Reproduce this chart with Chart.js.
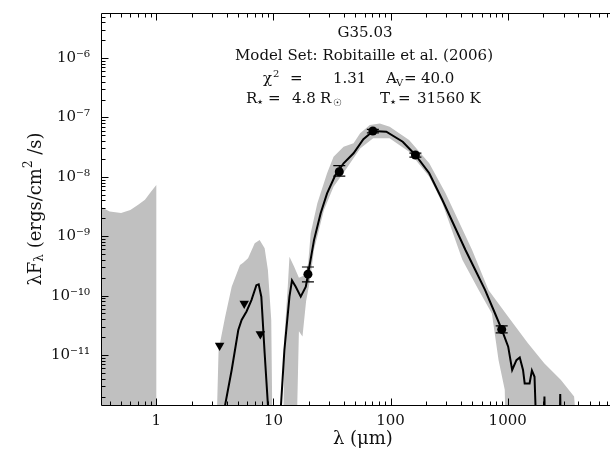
<!DOCTYPE html>
<html>
<head>
<meta charset="utf-8">
<script src="https://cdn.jsdelivr.net/npm/chart.js@4"></script>
<style>
  html, body { margin: 0; padding: 0; overflow: hidden; background: #fff; }
  #wrap { position: relative; width: 632px; height: 454px; }
</style>
</head>
<body>
<div id="wrap"><canvas id="sed"></canvas></div>
<script>
// axis ranges (micron, erg/cm2/s)
const X_MIN = 0.337, X_MAX = 10000;
const Y_MIN = 1.44e-12, Y_MAX = 5.73e-6;
const BELOW = 1e-13;   // under the axis, used where a curve leaves the plot

const xTickVals = [1, 10, 100, 1000];
const yTickExp = [-11, -10, -9, -8, -7, -6];

// best fit model
const fitLam = [3.6, 3.87, 4.4, 5.01, 5.35, 5.89, 6.49, 7.15, 7.48, 7.88, 8.41, 8.97, 9.3,
  11.2, 11.6, 12.4, 13.7, 14.4, 15.5, 17.1, 18.9, 19.8, 22.2, 25.3, 28.7, 33.8, 39.7, 48.3,
  58.6, 71, 92, 127, 163, 214, 277, 436, 529, 642, 780, 889, 1010, 1092, 1188, 1268, 1352,
  1397, 1538, 1610, 1695, 1808, 2000, 2060, 2120, 2740, 2810, 2880];
const fitFlux = [BELOW, 1.45e-12, 5.6e-12, 2.64e-11, 3.9e-11, 5.4e-11, 8.4e-11, 1.5e-10, 1.55e-10, 9.6e-11, 1.08e-11, 1.45e-12, BELOW,
  BELOW, 1.45e-12, 1.21e-11, 9.6e-11, 1.8e-10, 1.41e-10, 9.6e-11, 1.41e-10, 2.37e-10, 8.6e-10, 2.43e-9, 5.27e-9, 1.07e-8, 1.69e-8, 2.49e-8,
  4.3e-8, 5.9e-8, 5.74e-8, 3.9e-8, 2.33e-8, 1.15e-8, 4.07e-9, 5.86e-10, 2.7e-10, 1.24e-10, 5.0e-11, 2.7e-11, 1.38e-11, 5.6e-12, 8.2e-12, 9.1e-12, 5.6e-12,
  3.33e-12, 3.33e-12, 5.5e-12, 4.3e-12, BELOW, BELOW, 2.0e-12, BELOW, BELOW, 2.2e-12, BELOW];

// grey band of the other good fits: upper and lower edge
const bandTopLam = [0.337, 0.4, 0.5, 0.6, 0.7, 0.8, 0.9, 1.0, 1.0, 3.19, 3.4, 3.87, 4.4, 5.18, 5.51,
  6.07, 6.92, 7.62, 8.41, 8.97, 9.58, 9.9, 12.0, 12.4, 13.25, 13.7, 15.0, 16.5, 18.5, 19.8, 20.8,
  23.7, 28.7, 32.6, 39.7, 48.3, 55, 66.5, 80.9, 98.3, 144, 214, 295, 497, 686, 1010, 1490, 2060,
  2850, 3690, 4200, 10000];
const bandTopFlux = [3.1e-9, 2.6e-9, 2.45e-9, 2.75e-9, 3.4e-9, 4.1e-9, 5.6e-9, 7.3e-9, BELOW, BELOW, 1.2e-11, 4.4e-11, 1.41e-10, 3.27e-10, 3.58e-10,
  4.25e-10, 7.6e-10, 8.6e-10, 6.25e-10, 2.7e-10, 3.9e-11, BELOW, BELOW, 2.0e-11, 1.41e-10, 4.5e-10, 3.1e-10, 2.0e-10, 2.2e-10, 3.5e-10, 1.12e-9,
  3.58e-9, 1.15e-8, 2.18e-8, 3.2e-8, 3.66e-8, 5.4e-8, 7.45e-8, 7.9e-8, 7.0e-8, 4.17e-8, 1.69e-8, 5.27e-9, 5.86e-10, 1.24e-10, 4.4e-11, 1.58e-11, 7.2e-12,
  3.8e-12, 2.0e-12, BELOW, BELOW];
const bandBotLam = [0.337, 15.5, 16.5, 17.7, 19.0, 20.5, 22.2, 27, 32.6, 42.2, 55, 71, 98, 144,
  214, 277, 410, 565, 733, 836, 944, 975, 10000];
const bandBotFlux = [BELOW, BELOW, 2.5e-11, 2.04e-11, 8e-11, 1.8e-10, 5.9e-10, 2.75e-9, 6.8e-9, 1.39e-8, 3e-8, 4.45e-8, 4.45e-8, 2.65e-8,
  1e-8, 3.6e-9, 4e-10, 1.24e-10, 5e-11, 8.2e-12, 2.6e-12, BELOW, BELOW];

// photometry
const detLam = [19.7, 36.5, 70.6, 163, 889];
const detFlux = [2.3e-10, 1.22e-8, 5.9e-8, 2.33e-8, 2.7e-11];
const detLow = [1.71e-10, 1.03e-8, 5.5e-8, 2.15e-8, 2.35e-11];
const detHigh = [3.03e-10, 1.54e-8, 6.3e-8, 2.5e-8, 3.09e-11];
const limLam = [3.47, 5.63, 7.73];
const limFlux = [1.44e-11, 7.4e-11, 2.26e-11];

const GREY = '#c0c0c0';
const SERIF = '"DejaVu Serif", serif';

function pairs(xs, ys) {
  return xs.map((v, i) => ({ x: v, y: ys[i] }));
}

const sup = { '-': '\u207B', '0': '\u2070', '1': '\u00B9', '2': '\u00B2', '3': '\u00B3', '4': '\u2074',
  '5': '\u2075', '6': '\u2076', '7': '\u2077', '8': '\u2078', '9': '\u2079' };
function powLabel(e) {
  return '10' + String(e).split('').map(c => sup[c]).join('');
}

let datasets = [];
datasets.push({ data: pairs(bandTopLam, bandTopFlux), showLine: true, fill: '+1', backgroundColor: GREY,
  borderColor: 'rgba(0,0,0,0)', borderWidth: 0, pointRadius: 0, order: 5 });
datasets.push({ data: pairs(bandBotLam, bandBotFlux), showLine: true, fill: false,
  borderColor: 'rgba(0,0,0,0)', borderWidth: 0, pointRadius: 0, order: 5 });
datasets.push({ data: pairs(fitLam, fitFlux), showLine: true, fill: false, borderColor: '#000',
  borderWidth: 2, pointRadius: 0, order: 3 });
for (let i = 0; i < detLam.length; i++) {
  datasets.push({ data: [{ x: detLam[i], y: detLow[i] }, { x: detLam[i], y: detHigh[i] }],
    showLine: true, borderColor: '#000', borderWidth: 1.2, pointStyle: 'line', pointRadius: 6,
    pointBorderColor: '#000', pointBorderWidth: 1.2, order: 2 });
}
datasets.push({ data: pairs(detLam, detFlux), pointStyle: 'circle', pointRadius: 4.5,
  backgroundColor: '#000', borderColor: '#000', borderWidth: 0, order: 1 });
datasets.push({ data: pairs(limLam, limFlux), pointStyle: 'triangle', rotation: 180, pointRadius: 5.5,
  backgroundColor: '#000', borderColor: '#000', borderWidth: 0, order: 1 });

// frame, inward ticks, y title and the fit summary
const sedFrame = {
  id: 'sedFrame',
  afterDatasetsDraw(chart) {
    const { ctx, chartArea: a, scales: { x, y } } = chart;
    ctx.save();
    ctx.strokeStyle = '#000';
    ctx.lineWidth = 1;
    const L = a.left + 0.5, B = a.bottom + 0.5, T = a.top + 0.5;
    ctx.beginPath();
    ctx.moveTo(L, T); ctx.lineTo(L, B); ctx.lineTo(a.right, B);
    ctx.moveTo(L, T); ctx.lineTo(a.right, T);
    for (let e = -1; e <= 4; e++) {
      for (let m = 1; m <= 9; m++) {
        const v = m * Math.pow(10, e);
        if (v < X_MIN || v > X_MAX) continue;
        const px = Math.round(x.getPixelForValue(v)) + 0.5;
        const len = m === 1 ? 7 : 4;
        ctx.moveTo(px, B); ctx.lineTo(px, B - len);
        ctx.moveTo(px, T); ctx.lineTo(px, T + len);
      }
    }
    for (let e = -12; e <= -6; e++) {
      for (let m = 1; m <= 9; m++) {
        const v = m * Math.pow(10, e);
        if (v < Y_MIN || v > Y_MAX) continue;
        const py = Math.round(y.getPixelForValue(v)) + 0.5;
        const len = m === 1 ? 7 : 4;
        ctx.moveTo(L, py); ctx.lineTo(L + len, py);
      }
    }
    ctx.stroke();

    ctx.fillStyle = '#111';
    // y axis title with sub/superscripts, rotated
    const yParts = [['\u03BBF', 18, 0], ['\u03BB', 12, 4], [' (ergs/cm', 18, 0], ['2', 12, -7], [' /s)', 18, 0]];
    ctx.save();
    ctx.translate(36, (a.top + a.bottom) / 2);
    ctx.rotate(-Math.PI / 2);
    ctx.textBaseline = 'middle';
    ctx.textAlign = 'left';
    let w = 0;
    for (const p of yParts) { ctx.font = p[1] + 'px ' + SERIF; w += ctx.measureText(p[0]).width; }
    let cx = -w / 2;
    for (const p of yParts) {
      ctx.font = p[1] + 'px ' + SERIF;
      ctx.fillText(p[0], cx, p[2]);
      cx += ctx.measureText(p[0]).width;
    }
    ctx.restore();

    // fit summary
    ctx.textBaseline = 'alphabetic';
    ctx.textAlign = 'center';
    ctx.font = '15px ' + SERIF;
    ctx.fillText('G35.03', 365, 37);
    ctx.fillText('Model Set: Robitaille et al. (2006)', 364, 60);
    ctx.textAlign = 'left';
    const info = [
      ['\u03C7', 263, 83, 15], ['2', 273, 77, 10], ['=', 290, 83, 15], ['1.31', 333, 83, 15],
      ['A', 386, 83, 15], ['V', 396, 86, 10], ['=', 404, 83, 15], ['40.0', 421, 83, 15],
      ['R', 246, 103, 15], ['\u22C6', 256, 106, 13], ['=', 268, 103, 15], ['4.8', 292, 103, 15],
      ['R', 320, 103, 15], ['\u2609', 333, 106, 10], ['T', 380, 103, 15], ['\u22C6', 389, 106, 13],
      ['=', 398, 103, 15], ['31560 K', 417, 103, 15]
    ];
    for (const t of info) {
      ctx.font = t[3] + 'px ' + SERIF;
      ctx.fillText(t[0], t[1], t[2]);
    }
    ctx.restore();
  }
};

new Chart(document.getElementById('sed'), {
  type: 'scatter',
  data: { datasets: datasets },
  options: {
    responsive: true,
    maintainAspectRatio: false,
    animation: false,
    layout: { padding: { top: 13, right: 1, left: 0, bottom: 0 } },
    plugins: {
      legend: { display: false },
      tooltip: { enabled: false },
      filler: { drawTime: 'beforeDatasetsDraw' }
    },
    scales: {
      x: {
        type: 'logarithmic', bounds: 'data', min: X_MIN, max: X_MAX,
        afterBuildTicks: s => { s.ticks = xTickVals.map(v => ({ value: v })); },
        afterFit: s => { s.height = 49; s.paddingLeft = 0; s.paddingRight = 0; },
        grid: { display: false, drawTicks: false },
        border: { display: false },
        ticks: { autoSkip: false, maxRotation: 0, padding: 7, color: '#111',
          font: { family: SERIF, size: 15 }, callback: v => String(v) },
        title: { display: true, text: '\u03BB (\u03BCm)', color: '#111',
          font: { family: SERIF, size: 18 }, padding: { top: 0, bottom: 4 } }
      },
      y: {
        type: 'logarithmic', bounds: 'data', min: Y_MIN, max: Y_MAX,
        afterBuildTicks: s => { s.ticks = yTickExp.map(e => ({ value: Math.pow(10, e) })); },
        afterFit: s => { s.width = 101; s.paddingTop = 0; s.paddingBottom = 0; },
        grid: { display: false, drawTicks: false },
        border: { display: false },
        ticks: { autoSkip: false, padding: 11, color: '#111',
          font: { family: SERIF, size: 15 }, callback: (v, i) => powLabel(yTickExp[i]) }
      }
    }
  },
  plugins: [sedFrame]
});
</script>
</body>
</html>
